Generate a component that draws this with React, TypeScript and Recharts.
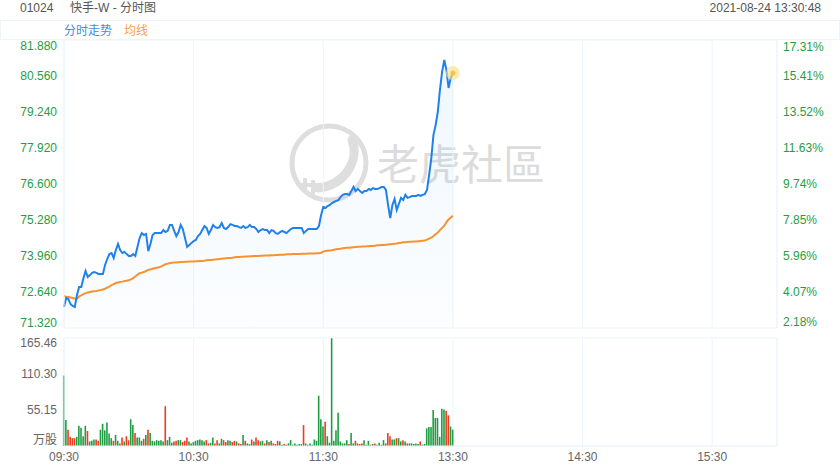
import React from 'react';
import { ComposedChart, Line, Area, Bar, Cell, XAxis, YAxis, CartesianGrid } from 'recharts';

const prevClose = 69.8;
const priceTicks = [71.32, 72.64, 73.96, 75.28, 76.6, 77.92, 79.24, 80.56, 81.88];
const volumeTicks = [0, 55.15, 110.3, 165.46];
const timeTicks = [0, 60, 120, 180, 240, 300];
const timeLabels = ['09:30', '10:30', '11:30', '13:30', '14:30', '15:30'];

// one value per minute, 09:30 -> 13:30
const prices = [
  72.09, 72.42, 72.38, 72.2, 72.13, 72.09, 72.53, 72.82, 72.82, 73.15,
  73.41, 73.19, 73.26, 73.34, 73.37, 73.34, 73.3, 73.3, 73.3, 73.63,
  73.85, 74.03, 74.07, 73.89, 74.18, 74.4, 74.18, 74.07, 74.11, 74.03,
  73.96, 73.96, 74.03, 73.96, 74.29, 74.62, 74.8, 74.73, 74.77, 74.14,
  74.4, 74.73, 74.8, 74.8, 74.8, 74.8, 74.91, 74.84, 74.88, 75.1,
  75.1, 74.88, 74.69, 74.84, 75.1, 74.95, 74.62, 74.29, 74.36, 74.44,
  74.51, 74.55, 74.69, 74.77, 74.91, 75.06, 74.99, 74.77, 74.91, 75.1,
  75.02, 74.99, 75.02, 75.17, 74.99, 74.95, 75.02, 75.13, 75.1, 75.06,
  75.06, 75.02, 74.99, 75.06, 74.99, 75.02, 75.1, 75.02, 75.02, 74.95,
  74.84, 74.91, 74.95, 74.91, 74.91, 74.8, 74.91, 74.88, 74.8, 74.77,
  74.84, 74.88, 74.84, 74.8, 74.88, 74.95, 74.99, 74.99, 74.99, 74.99,
  74.99, 74.8, 74.88, 74.95, 74.95, 74.95, 74.95, 74.95, 75.06, 75.46,
  75.76, 75.72, 75.79, 75.83, 75.9, 75.94, 75.98, 76.01, 76.12, 76.2,
  76.23, 76.23, 76.2, 76.34, 76.49, 76.34, 76.42, 76.34, 76.27, 76.34,
  76.34, 76.42, 76.38, 76.45, 76.42, 76.42, 76.45, 76.49, 76.49, 76.38,
  75.83, 75.35, 75.83, 76.05, 75.65, 75.87, 76.09, 76.01, 76.2, 76.09,
  76.12, 76.16, 76.16, 76.16, 76.2, 76.16, 76.2, 76.23, 76.38, 76.93,
  77.55, 78.4, 78.76, 79.24, 80.05, 80.71, 81.15, 80.78, 80.12, 80.49,
  80.67,
];

const averages = [
  72.49, 72.47, 72.46, 72.44, 72.42, 72.4, 72.39, 72.48, 72.52, 72.56,
  72.6, 72.62, 72.64, 72.66, 72.67, 72.68, 72.7, 72.71, 72.73, 72.76,
  72.8, 72.84, 72.89, 72.93, 72.97, 72.99, 73.01, 73.02, 73.04, 73.05,
  73.07, 73.1, 73.15, 73.21, 73.27, 73.33, 73.35, 73.37, 73.41, 73.45,
  73.47, 73.49, 73.51, 73.53, 73.55, 73.58, 73.62, 73.66, 73.68, 73.7,
  73.71, 73.72, 73.72, 73.73, 73.74, 73.74, 73.75, 73.75, 73.76, 73.76,
  73.76, 73.77, 73.77, 73.78, 73.78, 73.79, 73.8, 73.81, 73.81, 73.82,
  73.83, 73.84, 73.85, 73.86, 73.87, 73.88, 73.89, 73.89, 73.9, 73.91,
  73.92, 73.92, 73.93, 73.93, 73.94, 73.94, 73.95, 73.95, 73.96, 73.96,
  73.96, 73.97, 73.97, 73.98, 73.98, 73.98, 73.99, 73.99, 74.0, 74.0,
  74.01, 74.01, 74.01, 74.02, 74.02, 74.02, 74.03, 74.03, 74.03, 74.03,
  74.04, 74.04, 74.04, 74.05, 74.05, 74.05, 74.05, 74.06, 74.06, 74.08,
  74.12, 74.14, 74.15, 74.16, 74.17, 74.19, 74.21, 74.22, 74.23, 74.24,
  74.25, 74.26, 74.26, 74.27, 74.28, 74.29, 74.3, 74.3, 74.31, 74.31,
  74.32, 74.32, 74.33, 74.33, 74.34, 74.35, 74.35, 74.36, 74.36, 74.37,
  74.38, 74.39, 74.4, 74.41, 74.42, 74.44, 74.45, 74.46, 74.46, 74.47,
  74.48, 74.48, 74.49, 74.49, 74.5, 74.51, 74.52, 74.53, 74.56, 74.6,
  74.63, 74.69, 74.76, 74.82, 74.91, 74.99, 75.07, 75.2, 75.3, 75.37,
  75.43,
];

// 万股 per minute
const volumes = [
  108, 40, 25, 14, 12, 12, 14, 31, 28, 15,
  31, 23, 7, 8, 10, 10, 8, 25, 34, 24,
  36, 19, 12, 8, 17, 8, 4, 13, 7, 15,
  9, 41, 32, 20, 13, 13, 8, 11, 17, 25,
  20, 8, 7, 9, 8, 9, 7, 61, 9, 14,
  5, 7, 8, 9, 9, 6, 8, 13, 7, 4,
  6, 8, 9, 10, 9, 7, 9, 4, 5, 13,
  4, 9, 4, 11, 9, 6, 9, 8, 6, 8,
  7, 4, 3, 17, 8, 4, 3, 10, 7, 13,
  9, 7, 8, 4, 9, 6, 8, 4, 3, 8,
  7, 2, 3, 2, 4, 9, 2, 4, 2, 3,
  3, 32, 4, 2, 4, 2, 10, 8, 77, 41,
  30, 37, 15, 5, 165, 8, 24, 51, 7, 4,
  4, 9, 3, 20, 4, 8, 4, 3, 4, 9,
  2, 8, 2, 3, 4, 2, 5, 2, 9, 4,
  20, 15, 10, 10, 12, 12, 7, 9, 7, 4,
  4, 4, 3, 4, 3, 7, 2, 3, 27, 29,
  29, 55, 43, 43, 14, 57, 56, 54, 47, 30,
  25,
];

const data = prices.map((p, i) => ({
  idx: i,
  price: p,
  avg: averages[i],
  vol: volumes[i],
  up: p >= (i === 0 ? prevClose : prices[i - 1]),
}));

const GRID = '#ecf5fb';
const GREEN = '#1f9d43';
const RED = '#f23a1d';
const BLUE = '#2181ea';
const ORANGE = '#f7922e';
const FONT = '"Liberation Sans", Arial, "Noto Sans CJK SC", sans-serif';

const makeTick = (count: number, fmt: (v: number) => string, color: string, anchor: string, top: number, bottom: number) =>
  (props: any) => {
    const { x, y, payload, index } = props;
    const shift = index === 0 ? bottom : index === count - 1 ? top : 0;
    return (
      <text x={x} y={y + shift} dy="0.36em" textAnchor={anchor} fill={color} fontSize={12} fontFamily={FONT}>
        {fmt(payload.value)}
      </text>
    );
  };

// percent change vs previous close, truncated like the source app
const toPct = (v: number) => ((v / prevClose - 1) * 100 - 0.001).toFixed(2) + '%';

const priceTick = makeTick(priceTicks.length, (v) => v.toFixed(3), GREEN, 'end', 6, -5);
const pctTick = makeTick(priceTicks.length, toPct, GREEN, 'start', 7, -6);
const volTick = makeTick(volumeTicks.length, (v) => (v === 0 ? '万股' : v.toFixed(2)), '#666', 'end', 5, -6);

const lastDot = (p: any) =>
  p.index === prices.length - 1 ? (
    <g key="last">
      <circle cx={p.cx} cy={p.cy} r={7} fill="#fbe18a" opacity={0.65} />
      <circle cx={p.cx} cy={p.cy} r={2.5} fill="#f3c63d" />
    </g>
  ) : (
    <g key={'d' + p.index} />
  );

const Watermark = () => (
  <svg width={840} height={470} style={{ position: 'absolute', left: 0, top: 0 }}>
    <circle cx={329} cy={163} r={37} fill="none" stroke="#dedede" strokeWidth={5} />
    <path d="M352 140 C 360 160, 345 185, 318 188" fill="none" stroke="#dedede" strokeWidth={9} strokeLinecap="round" />
    <path d="M305 178 L305 192 M313 180 L313 194 M300 185 L326 185" fill="none" stroke="#dedede" strokeWidth={4} />
    <text x={377} y={180} fontSize={42} fill="#dcdcdc" fontFamily='"Noto Sans CJK SC", sans-serif'>老虎社區</text>
  </svg>
);

export default function App() {
  return (
    <div style={{ position: 'absolute', left: 0, top: 0, width: 840, height: 470, background: '#fff', fontFamily: FONT, overflow: 'hidden' }}>
      <div style={{ position: 'absolute', left: 20, top: 0, fontSize: 12, lineHeight: '16px', color: '#555' }}>01024</div>
      <div style={{ position: 'absolute', left: 70, top: 0, fontSize: 12, lineHeight: '16px', color: '#555' }}>快手-W - 分时图</div>
      <div style={{ position: 'absolute', right: 19, top: 0, fontSize: 12, lineHeight: '16px', color: '#555' }}>2021-08-24 13:30:48</div>
      <div style={{ position: 'absolute', left: 0, top: 20, width: 838, height: 18, border: `1px solid ${GRID}` }} />
      <div style={{ position: 'absolute', left: 64, top: 23, fontSize: 12, lineHeight: '16px', color: '#3b8fe6' }}>分时走势</div>
      <div style={{ position: 'absolute', left: 124, top: 23, fontSize: 12, lineHeight: '16px', color: '#f7a04a' }}>均线</div>
      <Watermark />
      <div style={{ position: 'absolute', left: 0, top: 0 }}>
        <ComposedChart width={840} height={330} data={data} margin={{ top: 40, right: 0, bottom: 2, left: 0 }}>
          <defs>
            <linearGradient id="priceFill" x1="0" y1="0" x2="0" y2="1">
              <stop offset="0%" stopColor="#3a9bef" stopOpacity={0.13} />
              <stop offset="100%" stopColor="#3a9bef" stopOpacity={0.03} />
            </linearGradient>
          </defs>
          <CartesianGrid stroke={GRID} />
          <XAxis dataKey="idx" type="number" domain={[0, 330]} ticks={timeTicks} hide />
          <YAxis yAxisId="left" domain={[71.32, 81.88]} ticks={priceTicks} interval={0} width={64} tickSize={0} tickMargin={7}
            axisLine={{ stroke: GRID }} tick={priceTick} />
          <YAxis yAxisId="right" orientation="right" domain={[71.32, 81.88]} ticks={priceTicks} interval={0} width={63} tickSize={0} tickMargin={6}
            axisLine={{ stroke: GRID }} tick={pctTick} />
          <Area yAxisId="right" dataKey="price" type="linear" stroke="none" fill="url(#priceFill)" isAnimationActive={false} />
          <Line yAxisId="left" dataKey="avg" type="linear" stroke={ORANGE} strokeWidth={2} dot={false} isAnimationActive={false} />
          <Line yAxisId="left" dataKey="price" type="linear" stroke={BLUE} strokeWidth={2} dot={lastDot} isAnimationActive={false} />
        </ComposedChart>
      </div>
      <div style={{ position: 'absolute', left: 0, top: 330 }}>
        <ComposedChart width={840} height={140} data={data} margin={{ top: 8, right: 0, bottom: 0, left: 0 }}>
          <CartesianGrid stroke={GRID} />
          <XAxis dataKey="idx" type="number" domain={[0, 330]} ticks={timeTicks} interval={0} height={24} tickSize={0} tickMargin={6}
            axisLine={{ stroke: GRID }} tick={{ fill: '#666', fontSize: 12 }}
            tickFormatter={(v: number) => timeLabels[timeTicks.indexOf(v)]} />
          <YAxis yAxisId="v" domain={[0, 165.46]} ticks={volumeTicks} interval={0} width={64} tickSize={0} tickMargin={7}
            axisLine={{ stroke: GRID }} tick={volTick} />
          <YAxis yAxisId="r" orientation="right" domain={[0, 165.46]} ticks={volumeTicks} width={63}
            axisLine={{ stroke: GRID }} tick={false} />
          <Bar yAxisId="v" dataKey="vol" barSize={1.6} isAnimationActive={false}>
            {data.map((d) => (
              <Cell key={d.idx} fill={d.up ? GREEN : RED} />
            ))}
          </Bar>
        </ComposedChart>
      </div>
    </div>
  );
}
